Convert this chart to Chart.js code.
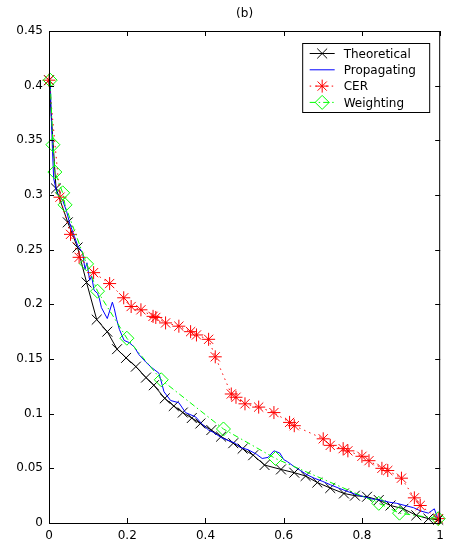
<!DOCTYPE html>
<html>
<head>
<meta charset="utf-8">
<script src="https://cdn.jsdelivr.net/npm/chart.js@4"></script>
<style>
  body { margin: 0; background: #fff; }
</style>
</head>
<body>
<canvas id="chart" width="450" height="550"></canvas>
<script>
const xTicks = [0, 0.2, 0.4, 0.6, 0.8, 1];
const yTicks = [0, 0.05, 0.1, 0.15, 0.2, 0.25, 0.3, 0.35, 0.4, 0.45];
const seriesNames = ["Theoretical", "Propagating", "CER", "Weighting"];

const theoX = [0, 0.018, 0.048, 0.073, 0.096, 0.122, 0.149, 0.174, 0.197, 0.222, 0.248, 0.268, 0.296, 0.319, 0.342, 0.365, 0.387, 0.415, 0.440, 0.471, 0.495, 0.522, 0.551, 0.593, 0.627, 0.656, 0.686, 0.719, 0.754, 0.782, 0.813, 0.843, 0.873, 0.906, 0.939, 0.970, 0.995];
const theoY = [0.405, 0.306, 0.275, 0.252, 0.220, 0.186, 0.175, 0.159, 0.151, 0.143, 0.133, 0.126, 0.114, 0.107, 0.101, 0.096, 0.091, 0.085, 0.079, 0.073, 0.068, 0.062, 0.053, 0.049, 0.046, 0.043, 0.037, 0.032, 0.027, 0.025, 0.024, 0.021, 0.016, 0.013, 0.007, 0.004, 0.003];

const propX = [0.003, 0.006, 0.009, 0.012, 0.02, 0.035, 0.045, 0.053, 0.065, 0.073, 0.086, 0.092, 0.097, 0.104, 0.109, 0.115, 0.124, 0.129, 0.134, 0.149, 0.162, 0.167, 0.173, 0.180, 0.192, 0.205, 0.218, 0.230, 0.248, 0.263, 0.281, 0.288, 0.294, 0.311, 0.332, 0.349, 0.375, 0.390, 0.408, 0.420, 0.441, 0.455, 0.476, 0.490, 0.509, 0.530, 0.545, 0.560, 0.575, 0.590, 0.600, 0.610, 0.625, 0.643, 0.660, 0.678, 0.700, 0.719, 0.740, 0.762, 0.785, 0.805, 0.825, 0.846, 0.870, 0.889, 0.910, 0.932, 0.950, 0.970, 0.985, 0.990, 0.995];
const propY = [0.405, 0.37, 0.34, 0.315, 0.302, 0.295, 0.285, 0.274, 0.262, 0.254, 0.247, 0.232, 0.238, 0.222, 0.226, 0.213, 0.210, 0.205, 0.197, 0.187, 0.202, 0.196, 0.186, 0.177, 0.167, 0.165, 0.161, 0.154, 0.147, 0.142, 0.137, 0.128, 0.120, 0.112, 0.110, 0.101, 0.097, 0.091, 0.085, 0.083, 0.078, 0.076, 0.073, 0.069, 0.067, 0.063, 0.059, 0.060, 0.066, 0.064, 0.058, 0.056, 0.052, 0.048, 0.044, 0.041, 0.038, 0.035, 0.032, 0.029, 0.026, 0.024, 0.022, 0.021, 0.019, 0.018, 0.016, 0.014, 0.011, 0.009, 0.013, 0.008, 0.003];

const cerX = [0, 0.028, 0.055, 0.077, 0.114, 0.155, 0.191, 0.210, 0.235, 0.266, 0.273, 0.298, 0.332, 0.362, 0.377, 0.408, 0.425, 0.466, 0.478, 0.501, 0.536, 0.575, 0.615, 0.627, 0.701, 0.719, 0.752, 0.764, 0.800, 0.818, 0.851, 0.866, 0.901, 0.934, 0.949, 0.995];
const cerY = [0.405, 0.298, 0.264, 0.243, 0.229, 0.219, 0.206, 0.198, 0.195, 0.189, 0.188, 0.183, 0.180, 0.175, 0.172, 0.168, 0.152, 0.118, 0.115, 0.109, 0.106, 0.101, 0.092, 0.089, 0.077, 0.071, 0.068, 0.066, 0.061, 0.057, 0.050, 0.048, 0.041, 0.023, 0.016, 0.004];

const weightX = [0.003, 0.010, 0.015, 0.035, 0.041, 0.096, 0.124, 0.199, 0.287, 0.446, 0.579, 0.843, 0.896, 0.995];
const weightY = [0.405, 0.346, 0.321, 0.302, 0.291, 0.237, 0.212, 0.169, 0.131, 0.086, 0.059, 0.018, 0.009, 0.004];

const FONT = "DejaVu Sans";
const pts = (xs, ys) => xs.map((x, i) => ({ x, y: ys[i] }));

// legend look per series: color, dash, marker
const looks = [
  { color: "#000000", dash: [], marker: "crossRot", r: 7 },
  { color: "#0000ff", dash: [], marker: false, r: 0 },
  { color: "#ff0000", dash: [1.5, 4], marker: "star", r: 6.5 },
  { color: "#00ff00", dash: [6, 3, 1.5, 3], marker: "rectRot", r: 7 }
];

function drawMarker(ctx, style, x, y, r) {
  ctx.beginPath();
  if (style === "crossRot" || style === "star") {
    const o = Math.cos(Math.PI / 4) * r;
    ctx.moveTo(x - o, y - o); ctx.lineTo(x + o, y + o);
    ctx.moveTo(x - o, y + o); ctx.lineTo(x + o, y - o);
  }
  if (style === "star") {
    ctx.moveTo(x, y - r); ctx.lineTo(x, y + r);
    ctx.moveTo(x - r, y); ctx.lineTo(x + r, y);
  }
  if (style === "rectRot") {
    ctx.moveTo(x - r, y); ctx.lineTo(x, y - r);
    ctx.lineTo(x + r, y); ctx.lineTo(x, y + r);
    ctx.closePath();
  }
  ctx.stroke();
}

const frame = {
  id: "frame",
  afterDatasetsDraw(chart) {
    const { ctx, chartArea: a, scales: { x, y } } = chart;
    ctx.save();
    ctx.strokeStyle = "#000";
    ctx.lineWidth = 1;
    ctx.setLineDash([]);
    ctx.strokeRect(a.left + 0.5, a.top + 0.5, a.right - a.left - 1, a.bottom - a.top);

    // inward ticks on all four sides
    ctx.beginPath();
    xTicks.forEach(v => {
      const px = Math.round(x.getPixelForValue(v)) + 0.5;
      ctx.moveTo(px, a.bottom); ctx.lineTo(px, a.bottom - 5);
      ctx.moveTo(px, a.top); ctx.lineTo(px, a.top + 5);
    });
    yTicks.forEach(v => {
      const py = Math.round(y.getPixelForValue(v)) + 0.5;
      ctx.moveTo(a.left, py); ctx.lineTo(a.left + 5, py);
      ctx.moveTo(a.right, py); ctx.lineTo(a.right - 5, py);
    });
    ctx.stroke();

    // title
    ctx.fillStyle = "#000";
    ctx.font = "12px " + FONT;
    ctx.textAlign = "center";
    ctx.textBaseline = "middle";
    ctx.fillText("(b)", (a.left + a.right) / 2, 14);

    // legend box
    const bx = a.right - 137.5, by = a.top + 12.5, bw = 127, bh = 69;
    ctx.fillStyle = "#fff";
    ctx.fillRect(bx, by, bw, bh);
    ctx.strokeRect(bx, by, bw, bh);
    ctx.textAlign = "left";
    seriesNames.forEach((name, i) => {
      const ly = by + 10 + i * 16.3;
      const lk = looks[i];
      ctx.strokeStyle = lk.color;
      ctx.setLineDash(lk.dash);
      ctx.beginPath();
      ctx.moveTo(bx + 7, ly); ctx.lineTo(bx + 32, ly);
      ctx.stroke();
      ctx.setLineDash([]);
      if (lk.marker) drawMarker(ctx, lk.marker, bx + 19.5, ly, lk.r);
      ctx.fillStyle = "#000";
      ctx.fillText(name, bx + 41, ly + 1);
    });
    ctx.restore();
  }
};

function series(i, xs, ys, order) {
  const lk = looks[i];
  return {
    label: seriesNames[i],
    data: pts(xs, ys),
    borderColor: lk.color,
    borderWidth: 1,
    borderDash: lk.dash,
    pointStyle: lk.marker || "circle",
    pointRadius: lk.r,
    pointBorderWidth: 1,
    pointBorderColor: lk.color,
    pointBackgroundColor: "rgba(0,0,0,0)",
    showLine: true,
    fill: false,
    tension: 0,
    clip: false,
    order
  };
}

new Chart(document.getElementById("chart"), {
  type: "scatter",
  data: {
    datasets: [
      series(0, theoX, theoY, 4),
      series(1, propX, propY, 3),
      series(2, cerX, cerY, 2),
      series(3, weightX, weightY, 1)
    ]
  },
  options: {
    responsive: false,
    animation: false,
    layout: { padding: { top: 31, right: 6, left: 0, bottom: 0 } },
    plugins: { legend: { display: false }, tooltip: { enabled: false } },
    scales: {
      x: {
        type: "linear", min: 0, max: 1,
        afterBuildTicks: s => { s.ticks = xTicks.map(v => ({ value: v })); },
        afterFit: s => { s.height = 27; },
        grid: { display: false, drawTicks: false },
        border: { display: false },
        ticks: { color: "#000", padding: 6, maxRotation: 0, font: { family: FONT, size: 12 }, callback: v => String(+v.toFixed(2)) }
      },
      y: {
        type: "linear", min: 0, max: 0.45,
        afterBuildTicks: s => { s.ticks = yTicks.map(v => ({ value: v })); },
        afterFit: s => { s.width = 49; },
        grid: { display: false, drawTicks: false },
        border: { display: false },
        ticks: { color: "#000", padding: 6, font: { family: FONT, size: 12 }, callback: v => String(+v.toFixed(2)) }
      }
    }
  },
  plugins: [frame]
});
</script>
</body>
</html>
